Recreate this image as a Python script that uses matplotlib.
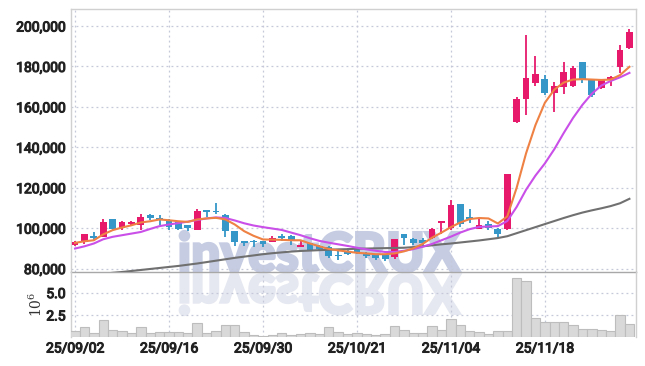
import matplotlib
matplotlib.use('Agg')
import matplotlib.pyplot as plt
import matplotlib.patheffects as pe
from matplotlib.ticker import FuncFormatter
from matplotlib.textpath import TextPath
from matplotlib.patches import PathPatch
from matplotlib.font_manager import FontProperties
from matplotlib.transforms import Affine2D, IdentityTransform

# trading days 2025/09/02 .. 2025/12/01
dates = ['25/09/02', '25/09/03', '25/09/04', '25/09/05', '25/09/08', '25/09/09', '25/09/10',
         '25/09/11', '25/09/12', '25/09/15', '25/09/16', '25/09/17', '25/09/18', '25/09/19',
         '25/09/22', '25/09/23', '25/09/24', '25/09/25', '25/09/26', '25/09/29', '25/09/30',
         '25/10/01', '25/10/02', '25/10/10', '25/10/13', '25/10/14', '25/10/15', '25/10/16',
         '25/10/17', '25/10/20', '25/10/21', '25/10/22', '25/10/23', '25/10/24', '25/10/27',
         '25/10/28', '25/10/29', '25/10/30', '25/10/31', '25/11/03', '25/11/04', '25/11/05',
         '25/11/06', '25/11/07', '25/11/10', '25/11/11', '25/11/12', '25/11/13', '25/11/14',
         '25/11/17', '25/11/18', '25/11/19', '25/11/20', '25/11/21', '25/11/24', '25/11/25',
         '25/11/26', '25/11/27', '25/11/28', '25/12/01']

# prices in thousands of won
opens = [91.5, 93.2, 96.0, 95.7, 104.3, 100.3, 101.8, 101.4, 106.4, 105.0,
         104.0, 102.8, 101.5, 99.3, 108.9, 108.5, 106.4, 98.5, 93.5, 93.4,
         93.5, 93.2, 96.2, 96.0, 90.9, 92.4, 91.0, 90.7, 86.9, 88.6,
         89.9, 87.4, 86.8, 86.6, 85.7, 97.0, 94.4, 94.0, 94.9, 102.3,
         100.1, 111.8, 105.6, 99.8, 101.9, 99.8, 99.5, 152.6, 163.7, 171.6,
         173.8, 166.7, 169.9, 170.4, 182.0, 173.6, 169.2, 173.2, 179.9, 189.0]
highs = [93.7, 97.3, 98.0, 104.4, 104.5, 103.5, 103.3, 107.2, 106.8, 106.5,
         104.5, 103.2, 101.5, 109.7, 109.0, 112.2, 106.8, 98.6, 93.7, 94.0,
         93.7, 96.0, 97.0, 96.5, 94.0, 92.8, 91.5, 91.0, 88.6, 90.2,
         90.5, 88.0, 87.2, 87.0, 94.8, 97.2, 95.0, 95.2, 100.0, 103.6,
         113.8, 112.0, 109.4, 104.8, 103.6, 100.0, 126.8, 164.7, 195.5, 185.1,
         175.7, 172.1, 182.0, 180.0, 182.0, 174.0, 174.0, 175.5, 190.6, 198.5]
lows = [91.0, 92.0, 94.0, 95.5, 99.3, 99.3, 101.0, 99.0, 103.9, 101.5,
        99.0, 99.0, 98.6, 99.0, 105.6, 106.9, 95.7, 91.0, 91.0, 90.7,
        90.9, 93.0, 93.5, 91.9, 90.5, 88.6, 89.4, 85.0, 84.1, 86.6,
        87.0, 85.4, 84.0, 83.8, 84.6, 91.9, 91.5, 91.0, 94.5, 97.3,
        99.0, 100.6, 102.3, 99.6, 99.3, 95.7, 99.0, 152.0, 155.9, 170.4,
        166.0, 157.3, 166.3, 170.0, 171.6, 165.0, 168.8, 170.4, 176.8, 188.5]
closes = [93.2, 97.0, 95.0, 102.8, 99.8, 102.8, 102.8, 105.3, 105.1, 104.6,
          100.6, 99.5, 100.1, 108.5, 108.1, 107.8, 98.6, 93.2, 92.4, 92.9,
          92.0, 95.2, 94.9, 94.0, 91.9, 89.4, 89.9, 86.2, 86.1, 87.4,
          87.7, 86.2, 85.0, 84.6, 94.4, 95.2, 92.7, 92.5, 99.8, 103.4,
          111.3, 101.8, 104.4, 101.4, 100.3, 97.0, 126.6, 163.9, 174.4, 176.2,
          166.7, 170.3, 177.0, 179.0, 173.2, 165.9, 173.6, 174.9, 188.1, 197.2]

ma_short = [92.7, 93.5, 94.0, 96.9, 99.0, 100.3, 101.4, 102.8, 103.4, 104.3,
            103.9, 103.4, 103.1, 104.3, 104.8, 105.1, 104.3, 101.8, 98.5, 96.2,
            94.4, 94.3, 94.2, 94.0, 94.0, 92.4, 91.0, 89.7, 89.0, 88.4,
            87.8, 87.5, 87.1, 87.1, 87.5, 88.5, 90.0, 92.2, 95.3, 97.8,
            100.5, 102.8, 104.5, 105.0, 104.8, 102.3, 105.8, 120.0, 137.0, 151.0,
            162.0, 168.5, 172.0, 173.5, 173.7, 173.5, 173.3, 173.5, 175.7, 179.8]
ma_mid = [89.9, 91.0, 92.4, 94.5, 95.7, 96.5, 97.3, 98.1, 99.6, 101.0,
          101.8, 102.5, 103.2, 104.0, 104.8, 105.3, 105.0, 103.8, 102.4, 101.3,
          100.5, 99.8, 99.1, 97.8, 96.5, 95.0, 93.7, 92.8, 92.0, 91.2,
          90.3, 89.5, 88.8, 88.2, 88.2, 88.8, 89.6, 90.8, 92.2, 94.0,
          95.8, 97.8, 99.5, 100.6, 100.8, 101.0, 103.5, 110.5, 119.0, 126.0,
          132.0, 139.0, 147.0, 154.5, 161.0, 166.5, 170.5, 172.8, 174.6, 176.8]
ma_long = [76.0, 76.5, 77.0, 77.4, 77.9, 78.3, 78.8, 79.3, 79.8, 80.3,
           80.8, 81.3, 81.9, 82.5, 83.2, 83.9, 84.6, 85.3, 85.9, 86.5,
           87.1, 87.6, 88.0, 88.4, 88.7, 88.9, 89.1, 89.3, 89.5, 89.6,
           89.8, 89.9, 90.0, 90.1, 90.2, 90.3, 90.6, 91.0, 91.5, 92.0,
           92.4, 92.9, 93.4, 93.9, 94.5, 95.1, 96.0, 97.5, 99.0, 100.5,
           102.0, 103.5, 105.0, 106.4, 107.7, 108.8, 109.8, 110.9, 112.3, 114.5]

# volume in millions of shares
volume = [0.70, 1.12, 0.52, 1.90, 0.82, 0.70, 0.52, 1.12, 0.52, 0.60,
          0.60, 0.60, 0.45, 1.57, 0.52, 0.70, 1.34, 1.34, 0.60, 0.22,
          0.19, 0.30, 0.45, 0.30, 0.37, 0.45, 0.34, 1.12, 0.60, 0.37,
          0.49, 0.37, 0.22, 0.37, 1.23, 0.82, 0.49, 0.49, 1.23, 0.82,
          2.00, 1.38, 0.70, 0.60, 0.37, 0.70, 0.70, 6.60, 6.30, 2.13,
          1.71, 1.71, 1.71, 1.34, 0.93, 0.90, 0.82, 0.70, 2.50, 1.49]

price_ticks = [80000, 100000, 120000, 140000, 160000, 180000, 200000]
vol_ticks = [2.5, 5.0]

UP = '#e6196b'
DOWN = '#3596c8'
GRID = '#c5c8d8'

plt.rcParams['font.family'] = ['Roboto', 'DejaVu Sans']

fig = plt.figure(figsize=(6.45, 3.66), dpi=100)
ax = fig.add_axes([71 / 645, 1 - 272 / 366, 565 / 645, 263 / 366])
ax2 = fig.add_axes([71 / 645, 1 - 337.3 / 366, 565 / 645, 65.3 / 366], sharex=ax)
ax.set_facecolor('none')
ax2.set_facecolor('none')

idx = list(range(len(dates)))
o = [v * 1000 for v in opens]
h = [v * 1000 for v in highs]
l = [v * 1000 for v in lows]
c = [v * 1000 for v in closes]
cols = [UP if cc >= oo else DOWN for oo, cc in zip(o, c)]

ax.vlines(idx, l, h, colors=cols, linewidth=1.3, zorder=3)
bottoms = [min(a, b) for a, b in zip(o, c)]
heights = [max(abs(b - a), 500) for a, b in zip(o, c)]
ax.bar(idx, heights, bottom=bottoms, width=0.72, color=cols, zorder=4)

ax.plot(idx, [v * 1000 for v in ma_long], color='#707070', lw=1.5, zorder=5)
ax.plot(idx, [v * 1000 for v in ma_mid], color='#c94fe8', lw=1.5, zorder=5)
ax.plot(idx, [v * 1000 for v in ma_short], color='#ee8143', lw=1.5, zorder=6)

ax.set_ylim(78300, 208400)
ax.set_xlim(-0.43, 59.7)
ax.set_yticks(price_ticks)
ax.yaxis.set_major_formatter(FuncFormatter(lambda v, p: f'{v:,.0f}'))

ax2.bar(idx, volume, width=1.0, color='#d9d9d9', edgecolor='#bdbdbd', linewidth=0.8, zorder=3)
ax2.set_ylim(0, 7.3)
ax2.set_yticks(vol_ticks)
ax2.set_yticklabels(['2.5', '5.0'])
ax2.set_ylabel(r'$10^{6}$', fontsize=10, color='#333333', labelpad=1,
               math_fontfamily='dejavuserif')

tick_idx = idx[::10]
ax2.set_xticks(tick_idx)
ax2.set_xticklabels([dates[i] for i in tick_idx])

for a in (ax, ax2):
    a.grid(True, color=GRID, linestyle=(0, (1.5, 2.5)), linewidth=0.9, zorder=0)
    a.tick_params(length=0, labelsize=10, labelcolor='#222222', pad=4)
    for s in a.spines.values():
        s.set_color('#d0d0d0')
        s.set_linewidth(1.0)
ax.tick_params(axis='x', labelbottom=False)
ax2.tick_params(axis='x', pad=3)
ax.spines['bottom'].set_color('#a8a8a8')
ax2.spines['top'].set_visible(False)
ax2.spines['bottom'].set_visible(False)

# watermark with reflection
fp = FontProperties(family=['Lato', 'DejaVu Sans'], weight='black')
tp = TextPath((0, 0), 'investCRUX', size=100, prop=fp)
ext = tp.get_extents()
cap = TextPath((0, 0), 'C', size=100, prop=fp).get_extents().height
sx = 280 / ext.width
sy = 40 / cap
base_y = 366 - 271.5
wm = Affine2D().translate(-ext.x0, 0).scale(sx, sy).translate(180, base_y)
fig.patches.append(PathPatch(tp, transform=wm + IdentityTransform(), facecolor='#c6cde3',
                             edgecolor='#c6cde3', linewidth=2.0, zorder=-1))
wm2 = Affine2D().translate(-ext.x0, 0).scale(sx, -sy).translate(180, base_y - 3)
fig.patches.append(PathPatch(tp, transform=wm2 + IdentityTransform(), facecolor='#e6e8f1',
                             edgecolor='#e6e8f1', linewidth=2.0, zorder=-1))

# embolden tick labels
fig.canvas.draw()
bold = [pe.withStroke(linewidth=0.8, foreground='#222222')]
for a in (ax, ax2):
    for lab in a.get_xticklabels() + a.get_yticklabels():
        lab.set_path_effects(bold)

fig.savefig('out.png', dpi=100)
